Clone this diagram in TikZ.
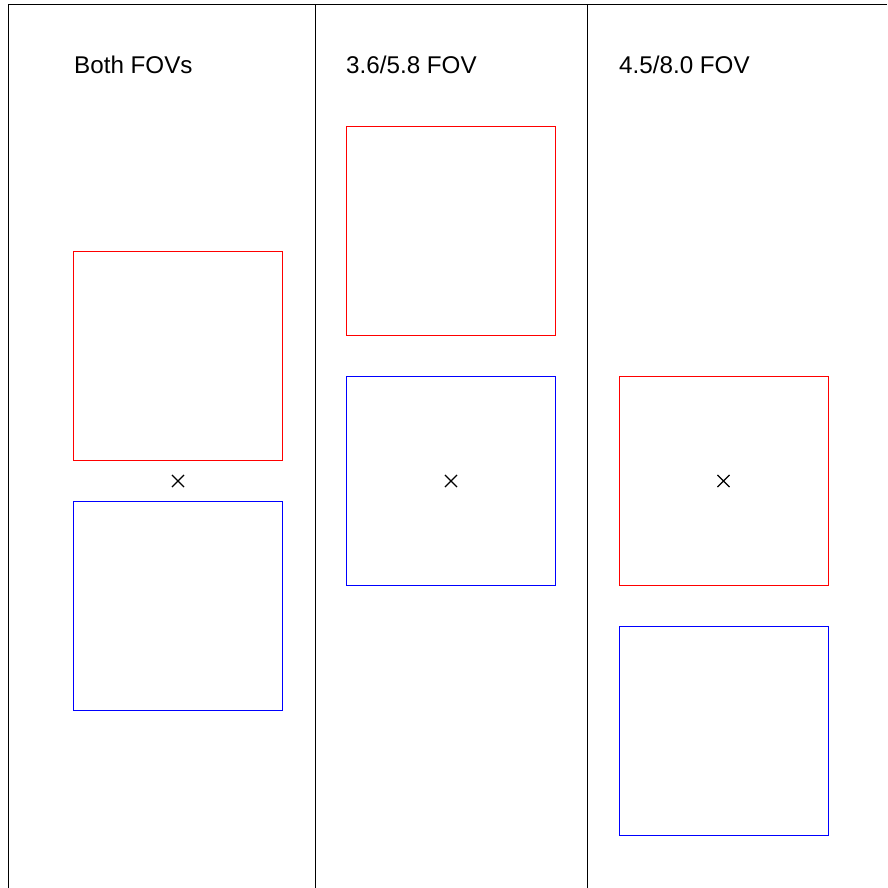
\documentclass[tikz,border=0pt]{standalone}
\usepackage{fontspec}
\setmainfont{Liberation Sans}
\usetikzlibrary{shapes.misc}
\tikzset{
  fovr/.style={draw=red,line width=0.8pt,minimum size=209pt,inner sep=0pt},
  fovb/.style={draw=blue,line width=0.8pt,minimum size=209pt,inner sep=0pt},
  ctr/.style={cross out,draw=black,line width=1.1pt,minimum size=11pt,inner sep=0pt},
  ttl/.style={anchor=base west,font=\fontsize{24.2}{27}\selectfont,inner sep=0pt},
  frm/.style={line width=0.8pt,draw=black},
}
\begin{document}
\begin{tikzpicture}[x=1pt,y=-1pt]
  \useasboundingbox (0,0) rectangle (887,888);
  % frame
  \coordinate (tl) at (8.5,4.5); \coordinate (tr) at (887,4.5);
  \coordinate (bl) at (8.5,888);
  \coordinate (d1t) at (315,4.5); \coordinate (d1b) at (315,888);
  \coordinate (d2t) at (587,4.5); \coordinate (d2b) at (587,888);
  \draw[frm] (bl) -- (tl) -- (tr);
  \draw[frm] (d1t) -- (d1b); \draw[frm] (d2t) -- (d2b);
  % titles
  \node[ttl] (t1) at (74,73.5) {Both FOVs};
  \node[ttl] (t2) at (346,73.5) {3.6/5.8 FOV};
  \node[ttl] (t3) at (619,73.5) {4.5/8.0 FOV};
  % both
  \node[fovr] (r1) at (178,356) {};
  \node[fovb] (b1) at (178,606) {};
  \node[ctr] (c1) at (178,481) {};
  % 3.6/5.8
  \node[fovr] (r2) at (451,231) {};
  \node[fovb] (b2) at (451,481) {};
  \node[ctr] (c2) at (451,481) {};
  % 4.5/8.0
  \node[fovr] (r3) at (723.5,481) {};
  \node[fovb] (b3) at (723.5,731) {};
  \node[ctr] (c3) at (723.5,481) {};
\end{tikzpicture}
\end{document}
